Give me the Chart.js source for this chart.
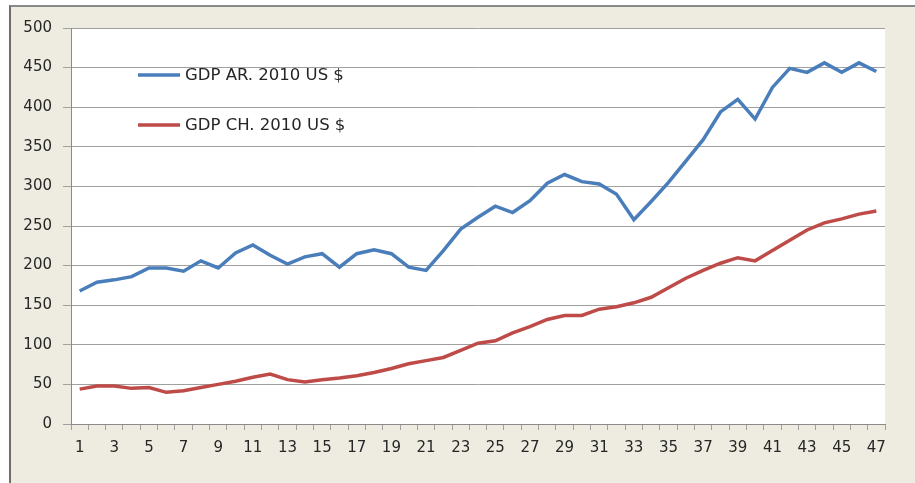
<!DOCTYPE html>
<html>
<head>
<meta charset="utf-8">
<script src="https://cdn.jsdelivr.net/npm/chart.js@4"></script>
<style>
  html, body { margin: 0; padding: 0; background: #fff; width: 915px; height: 483px; overflow: hidden; }
  #frame {
    position: absolute; left: 9px; top: 5px; width: 906px; height: 478px;
    background: #eeece1; border-top: 2px solid #8a8a8a; border-left: 2px solid #6e6e6e;
  }
  #wrap { position: absolute; left: 0; top: 0; width: 915px; height: 483px; }
</style>
</head>
<body>
<div id="frame"></div>
<div id="wrap"><canvas id="chart"></canvas></div>
<script>
const years = ["1","2","3","4","5","6","7","8","9","10","11","12","13","14","15","16",
  "17","18","19","20","21","22","23","24","25","26","27","28","29","30","31","32",
  "33","34","35","36","37","38","39","40","41","42","43","44","45","46","47"];

const gdpAR = [168, 179, 182, 186, 197, 197, 193, 206, 197, 216, 226, 213, 202, 211, 215, 198,
  215, 220, 215, 198, 194, 219, 246, 261, 275, 267, 282, 304, 315, 306, 303, 290,
  258, 281, 305, 332, 359, 394, 410, 385, 425, 449, 444, 456, 444, 456, 445];

const gdpCH = [44, 48, 48, 45, 46, 40, 42, 46, 50, 54, 59, 63, 56, 53, 56, 58,
  61, 65, 70, 76, 80, 84, 93, 102, 105, 115, 123, 132, 137, 137, 145, 148,
  153, 160, 172, 184, 194, 203, 210, 206, 219, 232, 245, 254, 259, 265, 269];

const seriesNames = ["GDP AR. 2010 US $", "GDP CH. 2010 US $"];
const seriesColors = ["#4a7ebb", "#be4b48"];
const yTicks = [0, 50, 100, 150, 200, 250, 300, 350, 400, 450, 500];

const font = { family: "DejaVu Sans", size: 15 };
const gridColor = "#a0a0a0";

const plotBackground = {
  id: "plotBackground",
  beforeDraw(chart) {
    const { ctx, chartArea: a } = chart;
    ctx.save();
    ctx.fillStyle = "#ffffff";
    ctx.fillRect(a.left, a.top, a.right - a.left, a.bottom - a.top);
    ctx.restore();
  },
};

// legend sits inside the plot, upper left
const insideLegend = {
  id: "insideLegend",
  afterDraw(chart) {
    const ctx = chart.ctx;
    ctx.save();
    ctx.font = "16.5px 'DejaVu Sans'";
    ctx.textBaseline = "middle";
    chart.data.datasets.forEach((ds, i) => {
      const y = 75 + i * 50;
      ctx.strokeStyle = ds.borderColor;
      ctx.lineWidth = 3.5;
      ctx.beginPath();
      ctx.moveTo(138, y);
      ctx.lineTo(180, y);
      ctx.stroke();
      ctx.fillStyle = "#262626";
      ctx.fillText(ds.label, 185, y + 1);
    });
    ctx.restore();
  },
};

new Chart(document.getElementById("chart"), {
  type: "line",
  data: {
    labels: years,
    datasets: [
      {
        label: seriesNames[0],
        data: gdpAR,
        borderColor: seriesColors[0],
        borderWidth: 3.5,
        pointRadius: 0,
        tension: 0,
      },
      {
        label: seriesNames[1],
        data: gdpCH,
        borderColor: seriesColors[1],
        borderWidth: 3.5,
        pointRadius: 0,
        tension: 0,
      },
    ],
  },
  options: {
    responsive: true,
    maintainAspectRatio: false,
    animation: false,
    layout: { padding: { left: 0, right: 30, top: 28, bottom: 0 } },
    plugins: {
      legend: { display: false },
      tooltip: { enabled: false },
    },
    scales: {
      x: {
        offset: true,
        afterFit: (s) => { s.height = 59; },
        grid: {
          offset: true,
          drawOnChartArea: false,
          drawTicks: true,
          tickLength: 6,
          color: gridColor,
        },
        border: { display: true, color: "#8a8a8a", width: 1 },
        ticks: {
          autoSkip: false,
          maxRotation: 0,
          padding: 9,
          color: "#262626",
          font: font,
          callback: (v, i) => (i % 2 === 0 ? years[i] : ""),
        },
      },
      y: {
        min: 0,
        max: 500,
        afterFit: (s) => { s.width = 71; },
        afterBuildTicks: (s) => { s.ticks = yTicks.map((v) => ({ value: v })); },
        grid: { color: gridColor, tickLength: 8 },
        border: { display: true, color: "#8a8a8a", width: 1 },
        ticks: { padding: 11, color: "#262626", font: font },
      },
    },
  },
  plugins: [plotBackground, insideLegend],
});
</script>
</body>
</html>
